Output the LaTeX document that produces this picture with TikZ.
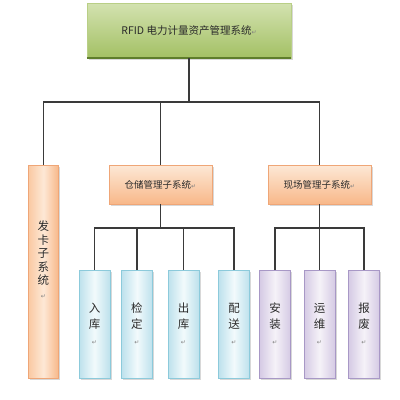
\documentclass[tikz,border=0pt]{standalone}
\usepackage{fontspec}
\setmainfont{Noto Sans CJK SC}
\newfontfamily\symf{DejaVu Sans}
\usetikzlibrary{shadows}
\definecolor{lineC}{HTML}{3A3A3A}
\definecolor{txtC}{HTML}{2A2A2A}
\definecolor{gA}{HTML}{D3E2B0}
\definecolor{gB}{HTML}{A3C064}
\definecolor{gD}{HTML}{B9CF86}
\definecolor{gE}{HTML}{5E7D2C}
\definecolor{oA}{HTML}{FDE8D6}
\definecolor{oB}{HTML}{F8B889}
\definecolor{oC}{HTML}{FAC9A2}
\definecolor{oD}{HTML}{EFA677}
\definecolor{bA}{HTML}{BDE1EC}
\definecolor{bB}{HTML}{F2FAFC}
\definecolor{bD}{HTML}{8CCADB}
\definecolor{pA}{HTML}{D5CAE4}
\definecolor{pB}{HTML}{F5F2F8}
\definecolor{pD}{HTML}{A898C6}
\newcommand{\pmark}{{\symf\fontsize{6}{6}\selectfont\color{gray}↵}}
\begin{document}
\begin{tikzpicture}[x=1pt,y=-1pt,
  box/.style={rectangle, inner sep=0pt, text=txtC,
    drop shadow={shadow xshift=1.5pt, shadow yshift=-1.5pt, opacity=0.3, fill=black!50}},
  topbox/.style={box, draw=gD, top color=gA, bottom color=gB,
    minimum width=204pt, minimum height=55pt, font=\fontsize{10.5}{12}\selectfont},
  subbox/.style={box, draw=oD, top color=oA, bottom color=oB,
    minimum width=103pt, minimum height=39pt, font=\fontsize{9.5}{11}\selectfont},
  tallbox/.style={box, draw=oD, left color=oC, right color=oB, middle color=oA,
    minimum width=30pt, minimum height=213pt},
  vtext/.style={align=center, font=\fontsize{11.5}{13.5}\selectfont, text=txtC},
  bluebox/.style={box, draw=bD, left color=bA, right color=bA, middle color=bB,
    minimum width=31pt, minimum height=108pt, vtext, font=\fontsize{11.5}{16}\selectfont},
  purpbox/.style={box, draw=pD, left color=pA, right color=pA, middle color=pB,
    minimum width=31pt, minimum height=108pt, vtext, font=\fontsize{11.5}{16}\selectfont},
  conn/.style={draw=lineC, line width=1.1pt}
]
\useasboundingbox (0,0) rectangle (400,400);
\fill[white] (0,0) rectangle (400,400);

\node[topbox] (top) at (189,30.5) {RFID 电力计量资产管理系统\pmark};
\draw[gE, line width=2.5pt] (top.south west) -- (top.south east);

\node[tallbox, label={[vtext, yshift=12pt]center:发\\卡\\子\\系\\统\\\pmark}] (fk) at (43.5,271.5) {};
\node[subbox] (cc) at (160.5,184.5) {仓储管理子系统\pmark};
\node[subbox] (xc) at (319.5,184.5) {现场管理子系统\pmark};

\node[bluebox] (rk) at (94.5,324) {入\\库\\\pmark};
\node[bluebox] (jd) at (137,324) {检\\定\\\pmark};
\node[bluebox] (ck) at (183.5,324) {出\\库\\\pmark};
\node[bluebox] (ps) at (234,324) {配\\送\\\pmark};

\node[purpbox] (az) at (275,324) {安\\装\\\pmark};
\node[purpbox] (yw) at (319.5,324) {运\\维\\\pmark};
\node[purpbox] (bf) at (364,324) {报\\废\\\pmark};

\coordinate (bus1) at (189,102);
\coordinate (bus2) at (160.5,228);
\coordinate (bus3) at (319.5,228);

\draw[conn] (top.south) -- (bus1);
\draw[conn] (fk.north) |- (bus1) -| (xc.north);
\draw[conn] (bus1) -| (cc.north);

\draw[conn] (cc.south) -- (bus2);
\draw[conn] (rk.north) |- (bus2) -| (ps.north);
\draw[conn] (jd.north) -- (jd.north |- bus2);
\draw[conn] (ck.north) -- (ck.north |- bus2);

\draw[conn] (xc.south) -- (bus3);
\draw[conn] (az.north) |- (bus3) -| (bf.north);
\draw[conn] (yw.north) -- (bus3);
\end{tikzpicture}
\end{document}
